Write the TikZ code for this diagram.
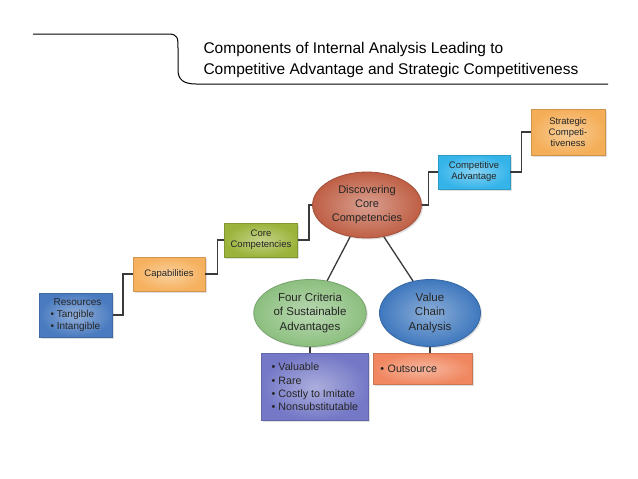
\documentclass[tikz,border=0pt]{standalone}
\usepackage{fontspec}
\setmainfont{Liberation Sans}
\usetikzlibrary{shapes.geometric,shadows}

\definecolor{resblue}{HTML}{4A7BC0}
\definecolor{caporange}{HTML}{F6B15E}
\definecolor{coregreen}{HTML}{9BB33A}
\definecolor{discred}{HTML}{BF5F45}
\definecolor{compcyan}{HTML}{35B4EA}
\definecolor{stratorange}{HTML}{F4AE58}
\definecolor{fourgreen}{HTML}{8CBF7F}
\definecolor{valueblue}{HTML}{3F78BE}
\definecolor{listpurple}{HTML}{7478C6}
\definecolor{outsalmon}{HTML}{F08760}
\definecolor{wire}{HTML}{3A3A3A}

\tikzset{
  box/.style={rectangle, draw=#1!85!black, line width=0.8pt,
    inner color=#1!60!white, outer color=#1, text=black!85,
    font=\fontsize{9.5}{11}\selectfont, align=center,
    drop shadow={shadow xshift=1.5pt, shadow yshift=-1.5pt, opacity=.25}},
  blob/.style={ellipse, draw=#1!85!black, line width=0.8pt,
    inner color=#1!60!white, outer color=#1, text=black!85,
    font=\fontsize{11.5}{14.5}\selectfont, align=center,
    drop shadow={shadow xshift=1.5pt, shadow yshift=-1.5pt, opacity=.25}},
  link/.style={draw=wire, line width=1.3pt}
}

\begin{document}
\begin{tikzpicture}[x=1pt,y=-1pt]
    \useasboundingbox[fill=white] (0,0) rectangle (638,479);
    % header
    \draw[line width=1pt] (33,34) -- (168,34) .. controls (178,34) and (178,38) .. (178,48)
        -- (178,70) .. controls (178,80) and (184,84) .. (196,84) -- (608,84);
    \node[anchor=west, align=left, font=\fontsize{15.5}{21}\selectfont] (title) at (200,59.5)
        {Components of Internal Analysis Leading to\\Competitive Advantage and Strategic Competitiveness};
    % staircase
    \node[box=resblue, minimum width=73, minimum height=44, align=left,
        font=\fontsize{10}{12}\selectfont] (res) at (76,315)
        {\hspace*{3pt}Resources\\ • Tangible\\ • Intangible};
    \node[box=caporange, minimum width=72, minimum height=34] (cap) at (169,274) {Capabilities};
    \node[box=coregreen, minimum width=73, minimum height=34] (core) at (261,240) {Core\\Competencies};
    \node[blob=discred, minimum width=104, minimum height=66,
        font=\fontsize{11}{14}\selectfont] (disc) at (367,205)
        {Discovering\\Core\\Competencies};
    \node[box=compcyan, minimum width=72, minimum height=34] (comp) at (474,172) {Competitive\\Advantage};
    \node[box=stratorange, minimum width=74, minimum height=46] (strat) at (568,132)
        {Strategic\\Competi-\\tiveness};
    % lower branch
    \node[blob=fourgreen, minimum width=106, minimum height=67] (four) at (310,313)
        {Four Criteria\\of Sustainable\\Advantages};
    \node[blob=valueblue, minimum width=101, minimum height=67] (value) at (430,313)
        {Value\\Chain\\Analysis};
    \node[box=listpurple, minimum width=107, minimum height=67, anchor=north west,
        align=left, font=\fontsize{10.7}{13.3}\selectfont] (crit) at (261,353)
        {• Valuable\\ • Rare\\ • Costly to Imitate\\ • Nonsubstitutable};
    \node[box=outsalmon, minimum width=99, minimum height=31, anchor=north west,
        font=\fontsize{10.7}{13.3}\selectfont, text width=85, align=left] (out) at (373,353)
        {• Outsource};
    % connectors
    \draw[link] (res.east) -- ++(10,0) |- (cap.west);
    \draw[link] (cap.east) -- ++(12,0) |- (core.west);
    \draw[link] (core.east) -- ++(11,0) |- (disc.west);
    \draw[link] (disc.east) -- ++(7,0) |- (comp.west);
    \draw[link] (comp.east) -- ++(11,0) |- (strat.west);
    \draw[link] (disc.-118) -- (four.62);
    \draw[link] (disc.-62) -- (value.118);
    \draw[link] (four.south) -- (crit.north -| four.south);
    \draw[link] (value.south) -- (out.north -| value.south);
\end{tikzpicture}
\end{document}
